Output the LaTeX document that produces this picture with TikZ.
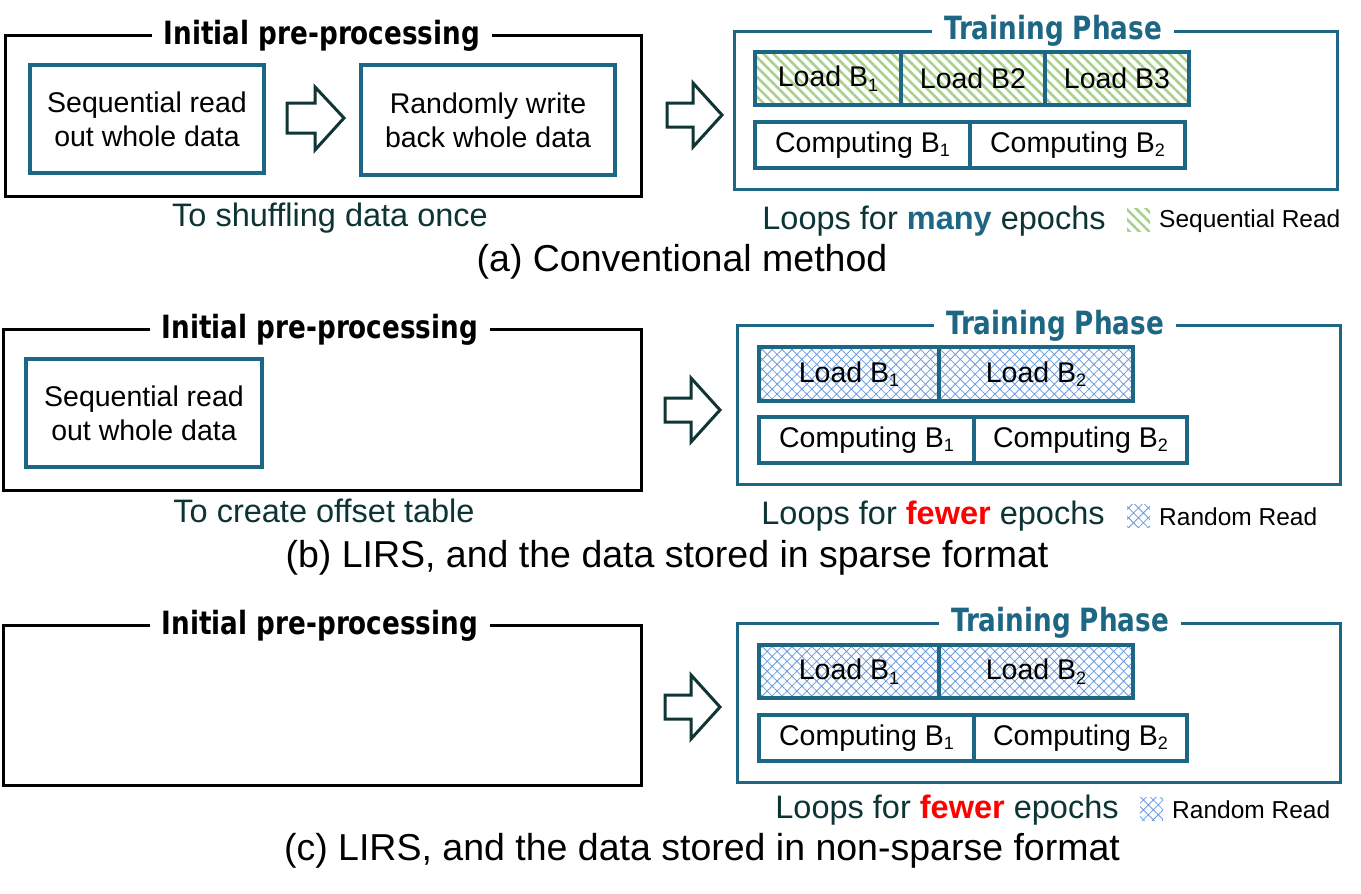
\documentclass[tikz,border=0pt]{standalone}
\usepackage{fontspec}
\usepackage{graphicx}
\setmainfont{Liberation Sans}
\newfontfamily\titlefont[FakeStretch=0.82]{DejaVu Sans}
\usetikzlibrary{patterns.meta}
\definecolor{tealc}{HTML}{1D6784}
\definecolor{darkt}{HTML}{0C3434}
\definecolor{arrowc}{HTML}{0F3534}
\definecolor{stripeg}{HTML}{A9D18E}
\definecolor{hatchb}{HTML}{6A9BDD}
\definecolor{redc}{HTML}{FF0000}
\newcommand\lowsub[1]{\raisebox{-0.3ex}{\fontsize{18}{18}\selectfont #1}}
\begin{document}
\begin{tikzpicture}[x=1pt,y=-1pt,
  outerbox/.style={draw=black,line width=3pt,inner sep=0pt},
  procbox/.style={draw=tealc,line width=3.5pt,fill=white,align=center,inner sep=0pt,
    font=\fontsize{28.5}{34}\selectfont},
  trainbox/.style={draw=tealc,line width=3pt,inner sep=0pt},
  loadseq/.style={draw=tealc,line width=3.5pt,inner sep=0pt,
    pattern={Lines[angle=-45,distance=7pt,line width=2.6pt]},pattern color=stripeg,
    font=\fontsize{28.5}{34}\selectfont},
  loadrnd/.style={draw=tealc,line width=3.5pt,inner sep=0pt,
    pattern={Hatch[angle=45,distance=7pt,line width=0.8pt]},pattern color=hatchb,
    font=\fontsize{28.5}{34}\selectfont},
  compbox/.style={draw=tealc,line width=3.5pt,fill=white,inner sep=0pt,
    font=\fontsize{28.5}{34}\selectfont},
  boxtitle/.style={fill=white,inner xsep=12pt,inner ysep=2pt,
    font=\titlefont\bfseries\fontsize{32}{36}\selectfont},
  traintitle/.style={boxtitle,text=tealc},
  note/.style={text=darkt,font=\fontsize{32.5}{38}\selectfont,inner sep=0pt},
  legendtxt/.style={font=\fontsize{24.5}{28}\selectfont,anchor=west,inner sep=0pt},
  caption/.style={font=\fontsize{37.5}{44}\selectfont,inner sep=0pt},
  hollow/.style={draw=arrowc,line width=3pt,fill=white,line join=miter},
  seqpatch/.style={inner sep=0pt,minimum width=23pt,minimum height=23pt,
    pattern={Lines[angle=-45,distance=7pt,line width=2.6pt]},pattern color=stripeg},
  rndpatch/.style={inner sep=0pt,minimum width=23pt,minimum height=23pt,
    pattern={Hatch[angle=45,distance=7pt,line width=0.8pt]},pattern color=hatchb}
]
\useasboundingbox[fill=white] (0,0) rectangle (1361,894);

% ===================== (a) =====================
\node[outerbox,minimum width=636pt,minimum height=161pt] (preA) at (323,115.5) {};
\node[boxtitle] (preAt) at (322,36) {Initial pre-processing};
\node[procbox,minimum width=234pt,minimum height=108pt] (seqA) at (147,119) {Sequential read\\out whole data};
\node[procbox,minimum width=254pt,minimum height=110pt] (randA) at (488,120) {Randomly write\\back whole data};
\draw[hollow] (287,103) -- (315,103) -- (315,87) -- (344,118) -- (315,150) -- (315,133) -- (287,133) -- cycle;
\node[note] (noteA) at (330,218) {To shuffling data once};
\draw[hollow] (667,103) -- (693,103) -- (693,83) -- (722,115) -- (693,147) -- (693,127) -- (667,127) -- cycle;
\node[trainbox,minimum width=603pt,minimum height=158pt] (trainA) at (1035.5,110) {};
\node[traintitle] (trainAt) at (1053,31) {Training Phase};
\node[loadseq,minimum width=146pt,minimum height=53pt] (loadA1) at (828,78.5) {Load B\lowsub{1}};
\node[loadseq,minimum width=144pt,minimum height=53pt] (loadA2) at (973,78.5) {Load B2};
\node[loadseq,minimum width=144pt,minimum height=53pt] (loadA3) at (1117,78.5) {Load B3};
\node[compbox,minimum width=215pt,minimum height=46pt] (compA1) at (862.5,145) {Computing B\lowsub{1}};
\node[compbox,minimum width=215pt,minimum height=46pt] (compA2) at (1077.5,145) {Computing B\lowsub{2}};
\node[note] (loopsA) at (934,221) {Loops for \textbf{\color{tealc}many} epochs};
\node[seqpatch] (patA) at (1138.5,219.5) {};
\node[legendtxt] (legA) at (1159,221) {Sequential Read};
\node[caption] (capA) at (682,262) {(a) Conventional method};

% ===================== (b) =====================
\node[outerbox,minimum width=638pt,minimum height=161pt] (preB) at (322,409.5) {};
\node[boxtitle] (preBt) at (320,330) {Initial pre-processing};
\node[procbox,minimum width=236pt,minimum height=108pt] (seqB) at (144,413) {Sequential read\\out whole data};
\node[note] (noteB) at (324,511) {To create offset table};
\draw[hollow] (665,398) -- (691,398) -- (691,378) -- (720,410) -- (691,442) -- (691,422) -- (665,422) -- cycle;
\node[trainbox,minimum width=603pt,minimum height=159pt] (trainB) at (1038.5,404.5) {};
\node[traintitle] (trainBt) at (1055,326) {Training Phase};
\node[loadrnd,minimum width=180pt,minimum height=54pt] (loadB1) at (849,374) {Load B\lowsub{1}};
\node[loadrnd,minimum width=194pt,minimum height=54pt] (loadB2) at (1036,374) {Load B\lowsub{2}};
\node[compbox,minimum width=215pt,minimum height=46pt] (compB1) at (866.5,440) {Computing B\lowsub{1}};
\node[compbox,minimum width=213pt,minimum height=46pt] (compB2) at (1080.5,440) {Computing B\lowsub{2}};
\node[note] (loopsB) at (933,516) {Loops for \textbf{\color{redc}fewer} epochs};
\node[rndpatch] (patB) at (1138.5,515.5) {};
\node[legendtxt] (legB) at (1159,517) {Random Read};
\node[caption] (capB) at (667,558) {(b) LIRS, and the data stored in sparse format};

% ===================== (c) =====================
\node[outerbox,minimum width=638pt,minimum height=160pt] (preC) at (322,705) {};
\node[boxtitle] (preCt) at (320,626) {Initial pre-processing};
\draw[hollow] (665,695) -- (691,695) -- (691,675) -- (720,707) -- (691,739) -- (691,719) -- (665,719) -- cycle;
\node[trainbox,minimum width=603pt,minimum height=159pt] (trainC) at (1038.5,702.5) {};
\node[traintitle] (trainCt) at (1060,623) {Training Phase};
\node[loadrnd,minimum width=180pt,minimum height=53pt] (loadC1) at (849,671.5) {Load B\lowsub{1}};
\node[loadrnd,minimum width=194pt,minimum height=53pt] (loadC2) at (1036,671.5) {Load B\lowsub{2}};
\node[compbox,minimum width=215pt,minimum height=46pt] (compC1) at (866.5,738) {Computing B\lowsub{1}};
\node[compbox,minimum width=213pt,minimum height=46pt] (compC2) at (1080.5,738) {Computing B\lowsub{2}};
\node[note] (loopsC) at (947,810) {Loops for \textbf{\color{redc}fewer} epochs};
\node[rndpatch] (patC) at (1151.5,808.5) {};
\node[legendtxt] (legC) at (1172,810) {Random Read};
\node[caption] (capC) at (702,851) {(c) LIRS, and the data stored in non-sparse format};
\end{tikzpicture}
\end{document}
